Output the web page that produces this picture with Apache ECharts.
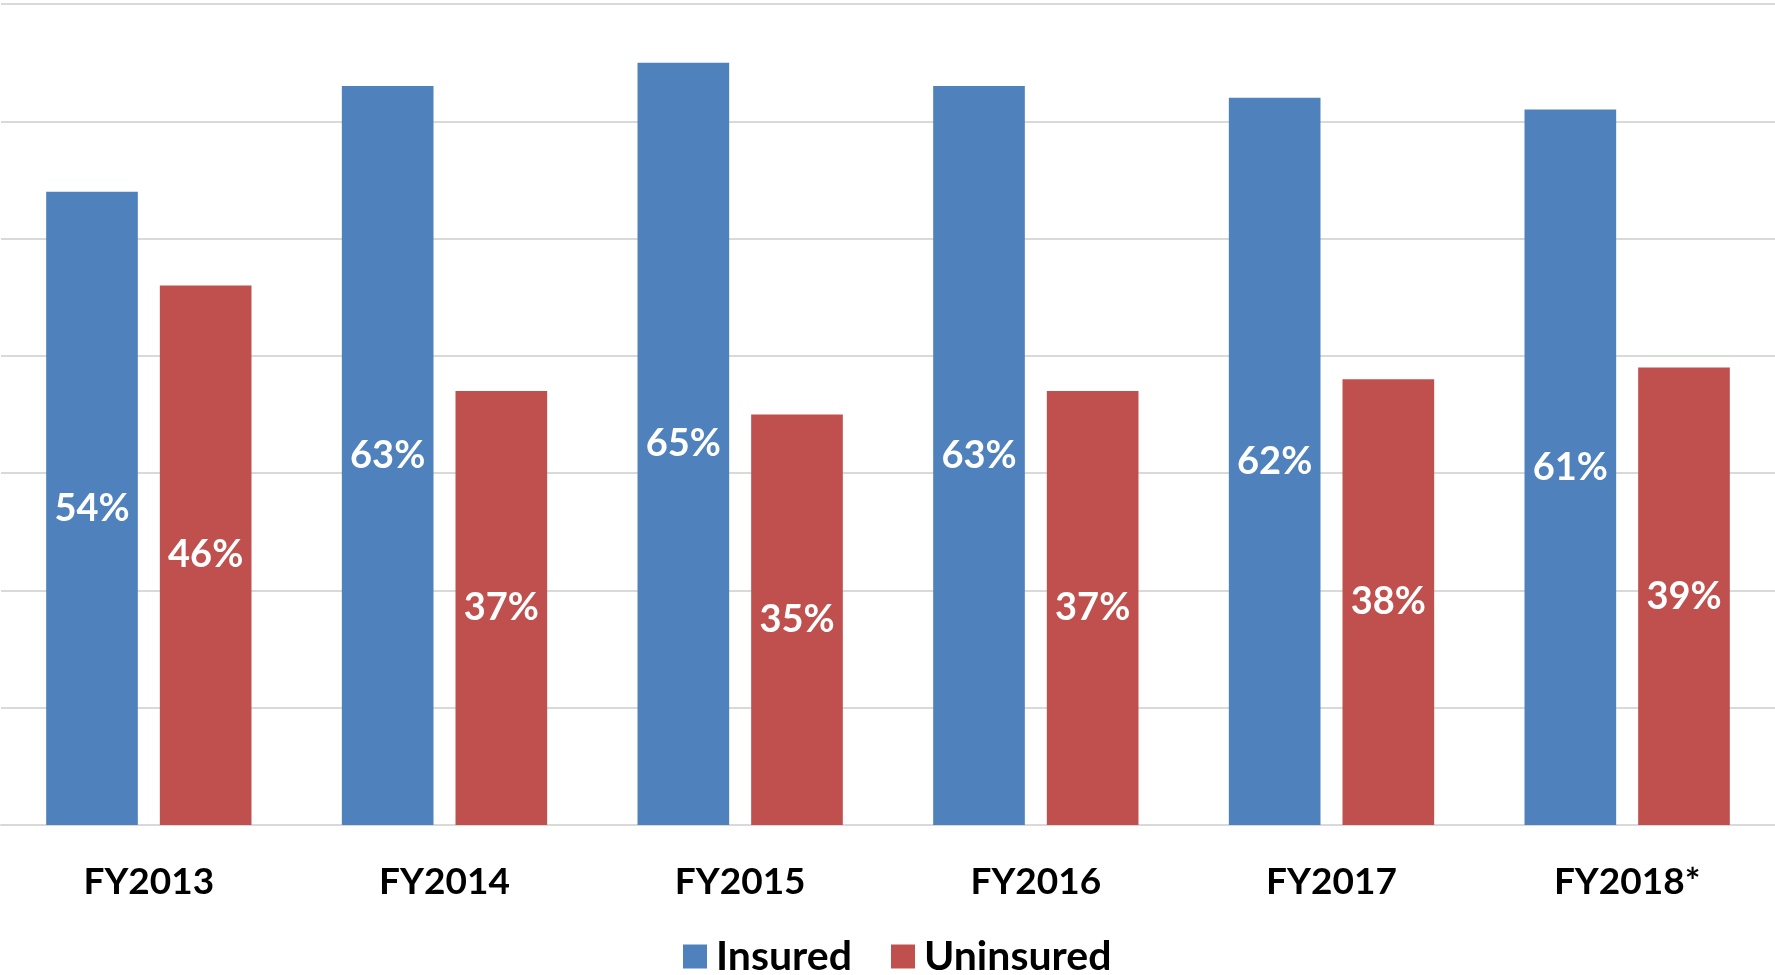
<!DOCTYPE html>
<html>
<head>
<meta charset="utf-8">
<script src="https://cdn.jsdelivr.net/npm/echarts@6/dist/echarts.min.js"></script>
<style>
html,body{margin:0;padding:0;background:#fff;}
#chart{width:1775px;height:975px;}
</style>
</head>
<body>
<div id="chart"></div>
<script>
var categories = ['FY2013', 'FY2014', 'FY2015', 'FY2016', 'FY2017', 'FY2018*'];
var insured = [54, 63, 65, 63, 62, 61];
var uninsured = [46, 37, 35, 37, 38, 39];
var seriesNames = ['Insured', 'Uninsured'];

var chart = echarts.init(document.getElementById('chart'));
var labelStyle = {
  show: true,
  position: 'inside',
  formatter: '{c}%',
  color: '#ffffff',
  fontFamily: 'Lato',
  fontWeight: 'bold',
  fontSize: 38
};
chart.setOption({
  animation: false,
  backgroundColor: '#ffffff',
  grid: { left: 1, right: 0, top: 4, bottom: 150, containLabel: false },
  legend: {
    data: seriesNames,
    top: 936,
    left: 683,
    padding: 0,
    itemWidth: 24,
    itemHeight: 24,
    itemGap: 39,
    icon: 'rect',
    textStyle: { fontFamily: 'Lato', fontWeight: 'bold', fontSize: 41, lineHeight: 41, color: '#000', padding: [0, 0, 0, 4] }
  },
  xAxis: {
    type: 'category',
    data: categories,
    axisLine: { show: true, lineStyle: { color: '#d9d9d9', width: 2 } },
    axisTick: { show: false },
    axisLabel: {
      margin: 39,
      fontFamily: 'Lato',
      fontWeight: 'bold',
      fontSize: 37,
      lineHeight: 37,
      color: '#000'
    }
  },
  yAxis: {
    type: 'value',
    min: 0,
    max: 70,
    interval: 10,
    axisLabel: { show: false },
    axisLine: { show: false },
    axisTick: { show: false },
    splitLine: { lineStyle: { color: '#d9d9d9', width: 2 } }
  },
  series: [
    {
      name: seriesNames[0],
      type: 'bar',
      data: insured,
      barWidth: '31%',
      barGap: '24%',
      itemStyle: { color: '#4F81BD' },
      label: labelStyle
    },
    {
      name: seriesNames[1],
      type: 'bar',
      data: uninsured,
      barWidth: '31%',
      itemStyle: { color: '#C0504D' },
      label: labelStyle
    }
  ]
});
</script>
</body>
</html>
